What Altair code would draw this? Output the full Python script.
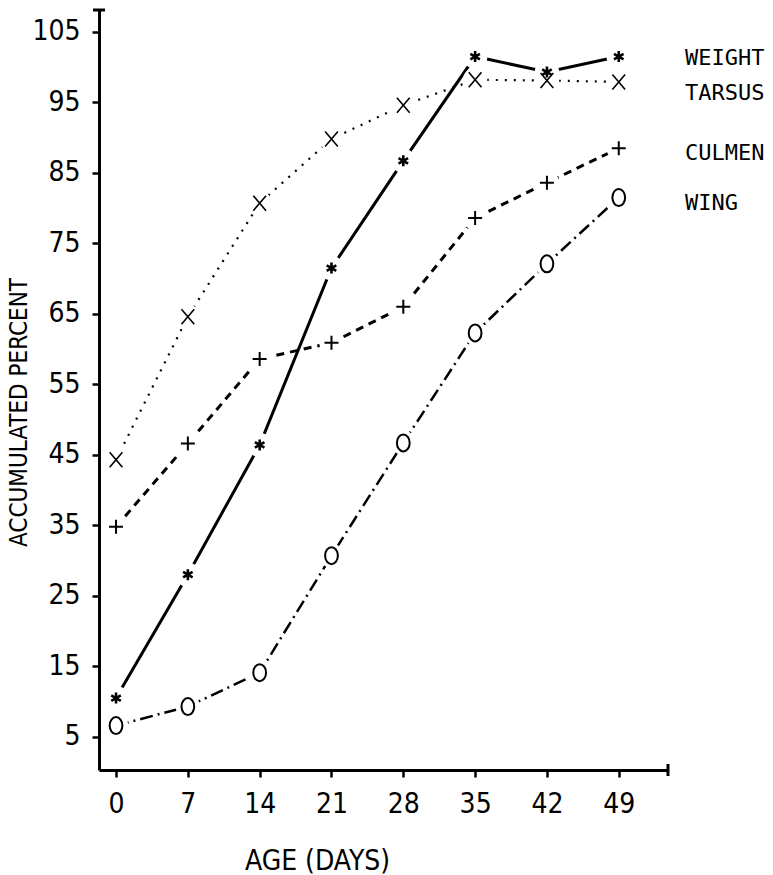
import altair as alt
import pandas as pd

# ---- data ----
days = [0, 7, 14, 21, 28, 35, 42, 49]
weight = [10.5, 28.0, 46.4, 71.5, 86.7, 101.5, 99.3, 101.5]
tarsus = [44.3, 64.6, 80.7, 89.8, 94.6, 98.2, 98.1, 97.9]
culmen = [34.8, 46.6, 58.6, 60.9, 66.0, 78.6, 83.6, 88.5]
wing = [6.6, 9.3, 14.1, 30.7, 46.7, 62.3, 72.1, 81.5]

series_names = ["WEIGHT", "TARSUS", "CULMEN", "WING"]
label_y = [101.3, 96.3, 87.8, 80.7]

x_ticks = [0, 7, 14, 21, 28, 35, 42, 49]
y_ticks = [5, 15, 25, 35, 45, 55, 65, 75, 85, 95, 105]

series_values = {"WEIGHT": weight, "TARSUS": tarsus, "CULMEN": culmen, "WING": wing}
rows = []
for name in series_names:
    for d, v in zip(days, series_values[name]):
        rows.append({"series": name, "day": d, "value": v})
df = pd.DataFrame(rows)
labels_df = pd.DataFrame({"name": series_names, "ly": label_y})
dummy = pd.DataFrame({"a": [0]})

LABEL_FONT = "Liberation Sans Narrow, DejaVu Sans Condensed, sans-serif"

xscale = alt.Scale(domain=[-1.66, 53.8], nice=False, zero=False)
yscale = alt.Scale(domain=[0.3, 108.1], nice=False, zero=False)

xaxis = alt.Axis(values=x_ticks, title="AGE (DAYS)", grid=False,
                 labelFont=LABEL_FONT, labelFontSize=28, labelPadding=13,
                 tickSize=7, tickWidth=2.5, domainWidth=3, domainColor="black",
                 tickColor="black", labelColor="black",
                 titleFont=LABEL_FONT, titleFontSize=28, titleFontWeight="normal",
                 titleX=218, titleY=91, titleBaseline="middle", titleAlign="center")
yaxis = alt.Axis(values=y_ticks, title="ACCUMULATED PERCENT", grid=False,
                 labelFont=LABEL_FONT, labelFontSize=28, labelPadding=12,
                 tickSize=7, tickWidth=2.5, domainWidth=3, domainColor="black",
                 tickColor="black", labelColor="black", labelBaseline="middle",
                 titleFont=LABEL_FONT, titleFontSize=24, titleFontWeight="normal",
                 titleX=-80, titleY=402, titleAngle=270, titleBaseline="middle",
                 titleAlign="center")


def X():
    return alt.X("day:Q", scale=xscale, axis=xaxis)


def Y(field="value:Q"):
    return alt.Y(field, scale=yscale, axis=yaxis)


base = alt.Chart(df)

line_styles = {
    "WEIGHT": dict(strokeWidth=3),
    "TARSUS": dict(strokeWidth=2.2, strokeDash=[2, 7]),
    "CULMEN": dict(strokeWidth=3, strokeDash=[8, 6]),
    "WING": dict(strokeWidth=2.5, strokeDash=[13, 5, 2, 5]),
}
marker_shapes = {
    "WEIGHT": ("M0,-1L0,1M-0.87,-0.5L0.87,0.5M-0.87,0.5L0.87,-0.5", 121, 2.6),
    "TARSUS": ("M-0.85,-1L0.85,1M-0.85,1L0.85,-1", 225, 1.6),
    "CULMEN": ("M0,-1L0,1M-1,0L1,0", 196, 2.0),
    "WING": ("M0,-1A0.75,1,0,1,1,0,1A0.75,1,0,1,1,0,-1Z", 289, 2.0),
}

lines = [
    base.transform_filter(alt.datum.series == name)
    .mark_line(color="black", **line_styles[name])
    .encode(x=X(), y=Y())
    for name in series_names
]

# white discs that open a small gap in each line around its markers
masks = alt.Chart(df).mark_circle(color="white", opacity=1, size=600).encode(
    x=X(), y=Y())

markers = [
    base.transform_filter(alt.datum.series == name)
    .mark_point(shape=marker_shapes[name][0], size=marker_shapes[name][1],
                strokeWidth=marker_shapes[name][2], color="black", filled=False, opacity=1)
    .encode(x=X(), y=Y())
    for name in series_names
]

labels = alt.Chart(labels_df).mark_text(
    align="left", baseline="middle", font="DejaVu Sans Mono", fontSize=22, color="black"
).encode(x=alt.value(586), y=Y("ly:Q"), text="name:N")

top_cap = alt.Chart(dummy).mark_rule(color="black", strokeWidth=3).encode(
    x=alt.value(-6), x2=alt.value(6), y=alt.value(0))
right_cap = alt.Chart(dummy).mark_rule(color="black", strokeWidth=3).encode(
    x=alt.value(569), y=alt.value(754), y2=alt.value(766))

chart = alt.layer(*lines, masks, *markers, labels, top_cap, right_cap).properties(
    width=569, height=760,
    padding={"left": 99, "top": 10, "right": 105, "bottom": 105},
    autosize=alt.AutoSizeParams(type="none"),
    background="white",
).configure_view(stroke=None)

chart.save("out.html", embed_options={"renderer": "svg", "actions": False})
